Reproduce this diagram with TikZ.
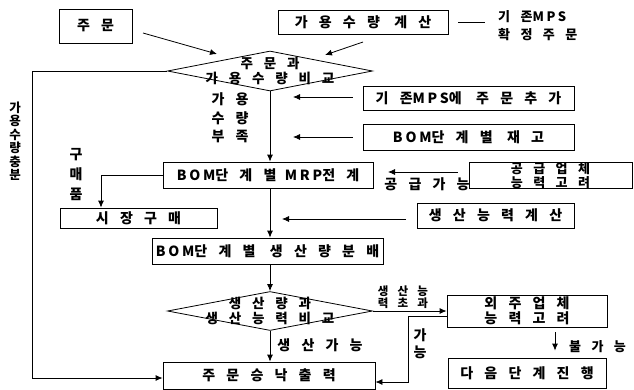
\documentclass[tikz,border=0pt]{standalone}
\usepackage{fontspec}
\usetikzlibrary{shapes.geometric,arrows.meta}
\newfontfamily\kr[LetterSpace=80]{Noto Sans CJK KR}
\newfontfamily\latf[LetterSpace=20]{Noto Sans CJK KR}
\newcommand\lt[1]{{\latf\bfseries #1}}
\newcommand\gp{\hspace{0.6em}}
\newcommand\fs[2]{\kr\bfseries\fontsize{#1}{#2}\selectfont}
\begin{document}
\begin{tikzpicture}[x=1pt,y=-1pt,
  every node/.style={inner sep=0pt},
  box/.style={draw, line width=0.8pt, font={\fs{14}{16}}},
  dia/.style={diamond, draw, line width=0.8pt, inner sep=0pt},
  lbl/.style={font={\fs{14}{16}}, align=center},
  conn/.style={line width=0.8pt},
  arr/.style={line width=0.8pt, -{Latex[length=7pt,width=6pt]}}]
\fill[white] (0,0) rectangle (634,389);
\useasboundingbox (0,0) rectangle (634,389);
% boxes
\node[box, minimum width=73pt, minimum height=34pt] (order) at (95.5,26) {주문};
\node[box, minimum width=170pt, minimum height=24pt] (calc) at (363,22) {가용수량 계산};
\node[lbl, anchor=west, font={\fs{13}{15}}] (mps1) at (498,17) {기존\lt{MPS}};
\node[lbl, anchor=west, font={\fs{13}{15}}] (mps2) at (498,35) {확정주문};
\node[dia, minimum width=205pt, minimum height=40pt] (d1) at (270,71) {};
\node[lbl, font={\fs{13.5}{15.5}}] (d1t) at (270,71) {주문과\\가용수량비교};
\node[box, minimum width=211pt, minimum height=24pt] (addmps) at (468.5,98) {기존\lt{MPS}에 주문추가};
\node[box, minimum width=211pt, minimum height=26pt] (stock) at (468.5,137) {\lt{BOM}단계별 재고};
\node[box, minimum width=210pt, minimum height=26pt] (mrp) at (268,175) {\lt{BOM}단계별\gp\lt{MRP}전계};
\node[box, minimum width=163pt, minimum height=25pt, align=center, font={\fs{13}{13.5}}] (sup) at (550.5,175.5) {공급업체\\능력고려};
\node[box, minimum width=157pt, minimum height=20pt] (market) at (138.5,218) {시장구매};
\node[box, minimum width=157pt, minimum height=25pt] (cap) at (495.5,215.5) {생산능력계산};
\node[box, minimum width=231pt, minimum height=26pt] (alloc) at (267.5,251) {\lt{BOM}단계별 생산량분배};
\node[dia, minimum width=205pt, minimum height=39pt] (d2) at (270,311) {};
\node[lbl, font={\fs{13.5}{15.5}}] (d2t) at (270,311) {생산량과\\생산능력비교};
\node[box, minimum width=212pt, minimum height=27pt] (accept) at (269,375.5) {주문승낙출력};
\node[box, minimum width=160pt, minimum height=32pt, align=center, font={\fs{14}{15.5}}] (out) at (527,311) {외주업체\\능력고려};
\node[box, minimum width=158pt, minimum height=30pt] (next) at (527,373) {다음단계진행};
% labels
\node[lbl, font={\fs{14}{18.5}}] (l1) at (230,118) {가용\\수량\\부족};
\node[lbl, font={\fs{14}{20}}] (l2) at (76,175) {구\\매\\품};
\node[lbl] (l3) at (427,184) {공급가능};
\node[lbl, font={\fs{11.5}{12}}] (l4) at (403,297) {생산능\\력초과};
\node[lbl] (l5) at (320,345) {생산가능};
\node[lbl, font={\fs{14}{17}}] (l6) at (420,343.5) {가\\능};
\node[lbl, anchor=west, font={\fs{13}{15}}] (l7) at (569,347) {불가능};
\node[lbl, font={\fs{12.5}{13.5}}] (l8) at (15,141) {가\\용\\수\\량\\충\\분};
% coordinates
\coordinate (lp) at (32,0);
\coordinate (mk) at (101,0);
\coordinate (a0s) at (143,33);
\coordinate (a0e) at (217,54);
\coordinate (b0s) at (363,42);
\coordinate (b0e) at (325,55);
\coordinate (a1e) at (293,97);
\coordinate (a2e) at (293,137);
\coordinate (a3e) at (388,172);
\coordinate (a4s) at (406,219);
\coordinate (a4e) at (282,219);
\coordinate (rb) at (408,0);
% connectors
\draw[arr] (a0s) -- (a0e);
\draw[arr] (b0s) -- (b0e);
\draw[conn] ([xshift=10pt]calc.east) -- ++(27,0);
\draw[arr] (d1.south) -- (d1.south |- mrp.north);
\draw[arr] ([xshift=-10pt]addmps.west |- a1e) -- (a1e);
\draw[arr] ([xshift=-10pt]stock.west |- a2e) -- (a2e);
\draw[arr] ([xshift=-11pt]sup.west |- a3e) -- (a3e);
\draw[arr] (a4s) -- (a4e);
\draw[arr] (mrp.south -| d1.south) -- (alloc.north -| d1.south);
\draw[arr] (alloc.south -| d1.south) -- (d2.north);
\draw[arr] (d2.south) -- (accept.north -| d2.south);
\draw[arr] (mrp.west) -- (mrp.west -| mk) -- (market.north -| mk);
\draw[arr] (d1.west) -- (d1.west -| lp) |- ([yshift=-2.5pt]accept.west);
\draw[arr] (d2.east) -- (out.west);
\draw[arr] ([yshift=-5pt]out.west) -- ([yshift=-5pt]out.west -| rb) -- ([yshift=-6.5pt]accept.east -| rb) -- ([yshift=-6.5pt]accept.east);
\draw[arr] ([xshift=28pt,yshift=-5pt]out.south) -- ([xshift=28pt,yshift=7pt]next.north);
\end{tikzpicture}
\end{document}
